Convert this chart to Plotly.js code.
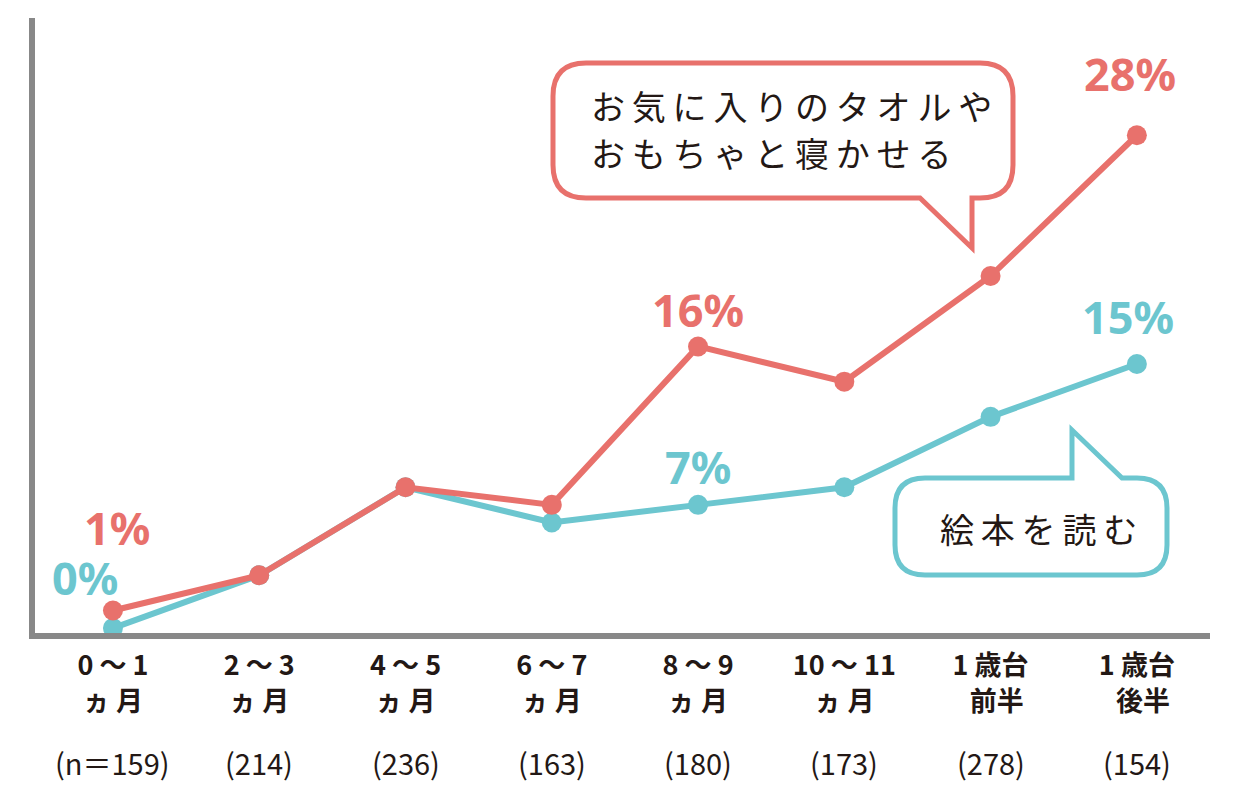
<!DOCTYPE html>
<html><head><meta charset="utf-8">
<script src="https://cdn.plot.ly/plotly-3.0.1.min.js"></script>
<style>html,body{margin:0;padding:0;background:#fff}</style>
</head><body><div id="chart" style="width:1242px;height:790px"></div>
<script>
// ---- data ----
const catLine1 = ["0 ～ 1", "2 ～ 3", "4 ～ 5", "6 ～ 7", "8 ～ 9", "10 ～ 11", "1 歳台", "1 歳台"];
const catLine2 = ["ヵ 月", "ヵ 月", "ヵ 月", "ヵ 月", "ヵ 月", "ヵ 月", "  前半", "  後半"];
const sampleSizes = ["(n＝159)", "(214)", "(236)", "(163)", "(180)", "(173)", "(278)", "(154)"];
const toysValues = [1, 3, 8, 7, 16, 14, 20, 28];   // お気に入りのタオルやおもちゃと寝かせる
const bookValues = [0, 3, 8, 6, 7, 8, 12, 15];     // 絵本を読む
const toysLabelIdx = [0, 4, 7];
const bookLabelIdx = [0, 4, 7];
const toysName = ["お気に入りのタオルや", "おもちゃと寝かせる"];
const bookName = "絵本を読む";

// ---- styling ----
const RED = "#E8716C", TEAL = "#6CC6CF", INK = "#231815", GRAY = "#888888";
const W = 1242, H = 790, ML = 35, MR = 32, MT = 18, MB = 157;
const PW = W - ML - MR, PH = H - MT - MB;
const xs = catLine1.map((_, i) => i);
const spaced = s => Array.from(s).join("\u2009");

function P(px, py) { return ((px - ML) / PW).toFixed(5) + "," + ((H - MB - py) / PH).toFixed(5); }

function bubbleRed() {
  const l = 553, r = 1013, t = 63, b = 198, R = 33;
  return "M" + P(l + R, t) + " L" + P(r - R, t) + " Q" + P(r, t) + " " + P(r, t + R) +
    " L" + P(r, b - R) + " Q" + P(r, b) + " " + P(r - R, b) +
    " L" + P(972, b) + " L" + P(972, 248) + " L" + P(920, b) +
    " L" + P(l + R, b) + " Q" + P(l, b) + " " + P(l, b - R) +
    " L" + P(l, t + R) + " Q" + P(l, t) + " " + P(l + R, t) + " Z";
}
function bubbleTeal() {
  const l = 895, r = 1167, t = 478, b = 575, R = 30;
  return "M" + P(l + R, t) + " L" + P(1072, t) + " L" + P(1072, 430) + " L" + P(1122, t) +
    " L" + P(r - R, t) + " Q" + P(r, t) + " " + P(r, t + R) +
    " L" + P(r, b - R) + " Q" + P(r, b) + " " + P(r - R, b) +
    " L" + P(l + R, b) + " Q" + P(l, b) + " " + P(l, b - R) +
    " L" + P(l, t + R) + " Q" + P(l, t) + " " + P(l + R, t) + " Z";
}

const traces = [
  { x: xs, y: bookValues, type: "scatter", mode: "lines+markers", name: bookName,
    line: { color: TEAL, width: 6 }, marker: { color: TEAL, size: 20 }, cliponaxis: false },
  { x: xs, y: toysValues, type: "scatter", mode: "lines+markers", name: toysName.join(""),
    line: { color: RED, width: 6 }, marker: { color: RED, size: 20 }, cliponaxis: false }
];

const pctFont = (c) => ({ family: "Noto Sans, Open Sans, sans-serif", size: 45, color: c, weight: 700 });
const annotations = [];
// value labels (offset in px from the point)
const toysOff = { 0: [4, 83], 4: [0, 37], 7: [-7, 62] };
const bookOff = { 0: [-28, 51], 4: [0, 38], 7: [-9, 48] };
toysLabelIdx.forEach(i => annotations.push({ x: i, y: toysValues[i], xref: "x", yref: "y",
  text: toysValues[i] + "%", showarrow: false, font: pctFont(RED),
  xshift: toysOff[i][0], yshift: toysOff[i][1] }));
bookLabelIdx.forEach(i => annotations.push({ x: i, y: bookValues[i], xref: "x", yref: "y",
  text: bookValues[i] + "%", showarrow: false, font: pctFont(TEAL),
  xshift: bookOff[i][0], yshift: bookOff[i][1] }));
// sample sizes
sampleSizes.forEach((s, i) => annotations.push({ x: i, y: 0, xref: "x", yref: "paper",
  yanchor: "middle", yshift: -129, text: s, showarrow: false,
  font: { family: "Liberation Sans Narrow, Noto Sans CJK JP, sans-serif", size: 29, color: INK } }));
// callout texts
const calloutFont = { family: "Noto Sans CJK JP, sans-serif", size: 34, color: INK };
const calloutY = [105, 153];
toysName.forEach((line, k) => annotations.push({ xref: "paper", yref: "paper",
  x: (589 - ML) / PW, y: (H - MB - calloutY[k]) / PH,
  xanchor: "left", yanchor: "middle", align: "left", text: spaced(line), showarrow: false,
  font: calloutFont }));
annotations.push({ xref: "paper", yref: "paper", x: (1038 - ML) / PW, y: (H - MB - 528) / PH,
  xanchor: "center", yanchor: "middle", text: spaced(bookName), showarrow: false,
  font: calloutFont });

const layout = {
  width: W, height: H, showlegend: false,
  margin: { l: ML, r: MR, t: MT, b: MB, pad: 0 },
  paper_bgcolor: "#fff", plot_bgcolor: "#fff",
  xaxis: { range: [-0.533, 7.5], tickmode: "array", tickvals: xs,
    ticktext: catLine1.map((a, i) => "<b>" + a + "</b><br><b>" + catLine2[i] + "</b>"),
    showgrid: false, zeroline: false, showline: true, linecolor: GRAY, linewidth: 6,
    ticks: "", ticklabelstandoff: 4,
    tickfont: { family: "Noto Sans CJK JP, sans-serif", size: 27, color: INK } },
  yaxis: { range: [-0.28, 34.66], showgrid: false, zeroline: false, showticklabels: false,
    showline: true, linecolor: GRAY, linewidth: 6, ticks: "" },
  shapes: [
    { type: "path", xref: "paper", yref: "paper", path: bubbleRed(),
      line: { color: RED, width: 5 }, fillcolor: "#fff", layer: "above" },
    { type: "path", xref: "paper", yref: "paper", path: bubbleTeal(),
      line: { color: TEAL, width: 5 }, fillcolor: "#fff", layer: "above" }
  ],
  annotations: annotations
};

Plotly.newPlot("chart", traces, layout, { displayModeBar: false, staticPlot: true });
</script>
</body></html>
